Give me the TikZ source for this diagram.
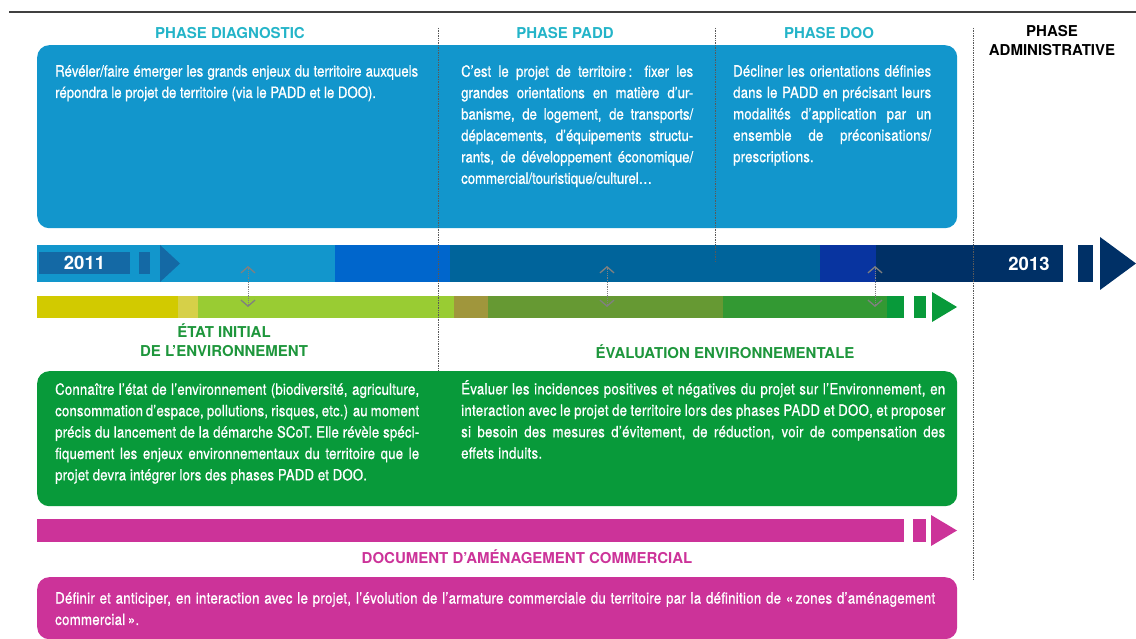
\documentclass[tikz,border=0pt]{standalone}
\usepackage{fontspec}
\setmainfont{TeX Gyre Heros}
\newfontfamily\narrowfont{TeX Gyre Heros}[FakeStretch=0.85, FakeBold=0.8]
\usepackage{xcolor}
\usepackage{tikz}
\usetikzlibrary{arrows.meta, positioning, shapes}
\tolerance=10000
\hbadness=10000

\definecolor{scotblue}{RGB}{18,150,204}
\definecolor{scotteal}{RGB}{36,180,200}
\definecolor{yearblue}{RGB}{20,105,165}
\definecolor{midblue}{RGB}{0,102,204}
\definecolor{steelblue}{RGB}{0,100,155}
\definecolor{deepblue}{RGB}{8,52,160}
\definecolor{navyblue}{RGB}{0,48,102}
\definecolor{envyellow}{RGB}{210,202,0}
\definecolor{paleyellow}{RGB}{214,208,72}
\definecolor{limegreen}{RGB}{153,204,51}
\definecolor{olivebrown}{RGB}{160,150,60}
\definecolor{olivegreen}{RGB}{102,153,51}
\definecolor{leafgreen}{RGB}{51,153,51}
\definecolor{scotgreen}{RGB}{8,154,58}
\definecolor{titlegreen}{RGB}{30,150,60}
\definecolor{scotpink}{RGB}{204,51,153}

\begin{document}
\begin{tikzpicture}[
    x=1pt, y=-1pt,
    panel/.style={rectangle, rounded corners=12pt, inner sep=0pt, anchor=north west},
    body/.style={anchor=north west, align=justify, inner sep=0pt, text=white, font=\narrowfont\fontsize{15.5}{21.4}\selectfont\addfontfeature{LetterSpace=#1}},
    body/.default=0,
    phase/.style={align=center, inner sep=0pt, font=\bfseries\fontsize{15}{19}\selectfont},
    year/.style={inner sep=0pt, text=white, font=\bfseries\fontsize{18.5}{20}\selectfont},
    divider/.style={black!65, densely dotted, line width=0.7pt},
    link/.style={gray, densely dotted, line width=0.8pt, {Straight Barb[length=6pt, width=14pt, line width=1.3pt]}-{Straight Barb[length=6pt, width=14pt, line width=1.3pt]}}
  ]
    \useasboundingbox (0,0) rectangle (1136,639);
    \draw[black!75, line width=1.2pt] (9,12) -- (1136,12);

    % phase titles
    \node[phase, text=scotteal] (diag) at (230,33) {PHASE DIAGNOSTIC};
    \node[phase, text=scotteal] (padd) at (565,33) {PHASE PADD};
    \node[phase, text=scotteal] (doo) at (829,33) {PHASE DOO};
    \node[phase, anchor=north] (admin) at (1052,25) {PHASE\\ADMINISTRATIVE};

    % project panel
    \node[panel, fill=scotblue, minimum width=920pt, minimum height=183pt] (projpanel) at (37,45) {};
    \node[body, text width=363pt] (diagtext) at (55,65) {Révéler/faire émerger les grands enjeux du territoire auxquels\linebreak répondra le projet de territoire (via le PADD et le DOO).};
    \node[body, text width=232pt] (paddtext) at (461,65) {C’est le projet de territoire\,: fixer les\linebreak grandes orientations en matière d’ur-\linebreak banisme, de logement, de transports/\linebreak déplacements, d’équipements structu-\linebreak rants, de développement économique/\linebreak commercial/touristique/culturel…};
    \node[body=1.2, text width=198pt] (dootext) at (733,65) {Décliner les orientations définies\linebreak dans le PADD en précisant leurs\linebreak modalités d’application par un\linebreak ensemble de préconisations/\linebreak prescriptions.};

    % timeline
    \fill[scotblue] (37,245) rectangle (335,282);
    \fill[midblue] (335,245) rectangle (450,282);
    \fill[steelblue] (450,245) rectangle (820,282);
    \fill[deepblue] (820,245) rectangle (876,282);
    \fill[navyblue] (876,245) rectangle (1063,282);
    \fill[navyblue] (1078,245) rectangle (1093,282);
    \fill[navyblue] (1100,237) -- (1136,263.5) -- (1100,290) -- cycle;
    \node[year, fill=yearblue, minimum width=91pt, minimum height=22pt] (start) at (84.5,263) {2011};
    \fill[yearblue] (139,252) rectangle (150,274);
    \fill[yearblue] (160,245) -- (180,263.5) -- (160,282) -- cycle;
    \node[year] (finish) at (1029,263.5) {2013};

    % environment bar
    \fill[envyellow] (37,296) rectangle (178,318);
    \fill[paleyellow] (178,296) rectangle (198,318);
    \fill[limegreen] (198,296) rectangle (454,318);
    \fill[olivebrown] (454,296) rectangle (488,318);
    \fill[olivegreen] (488,296) rectangle (723,318);
    \fill[leafgreen] (723,296) rectangle (887,318);
    \fill[scotgreen] (887,296) rectangle (904,318);
    \fill[scotgreen] (914,296) rectangle (926,318);
    \fill[scotgreen] (932,292) -- (957,307) -- (932,322) -- cycle;

    % phase dividers
    \draw[divider] (438,28) -- (438,370);
    \draw[divider] (715,28) -- (715,262);
    \draw[divider] (973,28) -- (973,580);

    % links between the bars
    \coordinate (up1) at (248,266);
    \coordinate (down1) at (248,307);
    \coordinate (up2) at (607,266);
    \coordinate (down2) at (607,307);
    \coordinate (up3) at (875,266);
    \coordinate (down3) at (875,307);
    \draw[link] (up1) -- (down1);
    \draw[link] (up2) -- (down2);
    \draw[link] (up3) -- (down3);

    % environment titles and panel
    \node[phase, text=titlegreen, anchor=north] (etat) at (224,323) {ÉTAT INITIAL\\DE L’ENVIRONNEMENT};
    \node[phase, text=titlegreen] (evaltitle) at (725,352) {ÉVALUATION ENVIRONNEMENTALE};
    \node[panel, fill=scotgreen, minimum width=920pt, minimum height=135pt] (envpanel) at (37,371) {};
    \node[body=1.2, text width=364pt] (etattext) at (55,383) {Connaître l’état de l’environnement (biodiversité, agriculture,\linebreak consommation d’espace, pollutions, risques, etc.) au moment\linebreak précis du lancement de la démarche SCoT. Elle révèle spéci-\linebreak fiquement les enjeux environnementaux du territoire que le\linebreak projet devra intégrer lors des phases PADD et DOO.};
    \node[body=2, text width=484pt] (evaltext) at (461,380) {Évaluer les incidences positives et négatives du projet sur l’Environnement, en\linebreak interaction avec le projet de territoire lors des phases PADD et DOO, et proposer\linebreak si besoin des mesures d’évitement, de réduction, voir de compensation des\linebreak effets induits.};

    % commercial bar and panel
    \fill[scotpink] (37,519) rectangle (904,542);
    \fill[scotpink] (913,519) rectangle (926,542);
    \fill[scotpink] (931,515) -- (957,530.5) -- (931,546) -- cycle;
    \node[phase, text=scotpink] (dactitle) at (527,557) {DOCUMENT D’AMÉNAGEMENT COMMERCIAL};
    \node[panel, fill=scotpink, minimum width=920pt, minimum height=62pt] (dacpanel) at (37,577) {};
    \node[body=2, text width=880pt] (dactext) at (55,592) {Définir et anticiper, en interaction avec le projet, l’évolution de l’armature commerciale du territoire par la définition de «\,zones d’aménagement\linebreak commercial\,».};
  \end{tikzpicture}
\end{document}
